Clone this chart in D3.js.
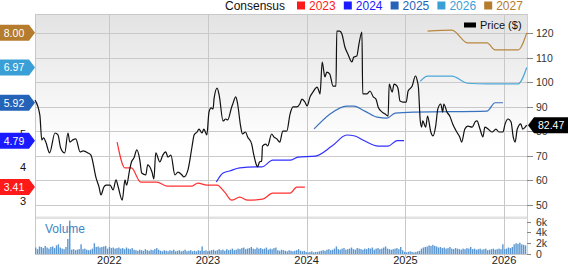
<!DOCTYPE html>
<html>
<head>
<meta charset="utf-8">
<script src="https://cdn.jsdelivr.net/npm/d3@7"></script>
<style>
  body { margin: 0; background: #fff; }
  svg { display: block; font-family: "Liberation Sans", Arial, sans-serif; }
</style>
</head>
<body>
<div id="chart"></div>
<script>
// price (daily close, $)
const price = [["2021-04-01",92.7],["2021-04-19",86.6],["2021-04-26",76.5],["2021-05-03",77.3],["2021-05-11",75.6],["2021-05-25",71.2],["2021-06-14",79.3],["2021-06-25",78.5],["2021-07-05",73.2],["2021-07-20",71.2],["2021-08-01",79.3],["2021-08-08",75.6],["2021-08-19",76.5],["2021-08-30",76.9],["2021-09-15",71.6],["2021-09-26",72.0],["2021-10-14",71.2],["2021-10-25",70.3],["2021-11-13",61.0],["2021-11-24",57.3],["2021-12-01",54.1],["2021-12-12",57.3],["2021-12-20",58.1],["2022-01-04",58.1],["2022-01-15",56.1],["2022-01-26",60.2],["2022-02-03",57.3],["2022-02-18",52.0],["2022-02-28",60.2],["2022-03-06",58.1],["2022-03-17",64.2],["2022-03-24",67.5],["2022-04-02",69.1],["2022-04-13",72.4],["2022-04-24",68.3],["2022-05-01",63.0],["2022-05-16",62.2],["2022-05-23",66.3],["2022-06-08",63.4],["2022-06-15",60.6],["2022-06-22",71.2],["2022-07-07",67.5],["2022-07-18",70.3],["2022-07-29",71.6],["2022-08-06",69.5],["2022-08-17",70.3],["2022-09-01",62.2],["2022-09-12",63.4],["2022-09-27",62.2],["2022-10-04",61.4],["2022-10-19",64.2],["2022-11-03",73.6],["2022-11-11",78.5],["2022-11-22",79.7],["2022-11-29",80.9],["2022-12-10",79.3],["2022-12-17",80.9],["2022-12-28",78.5],["2023-01-05",87.8],["2023-01-13",89.5],["2023-01-20",89.1],["2023-01-24",93.5],["2023-02-04",97.6],["2023-02-12",94.5],["2023-02-26",84.2],["2023-03-08",85.0],["2023-03-15",84.6],["2023-03-30",89.9],["2023-04-03",91.1],["2023-04-14",94.0],["2023-04-21",91.1],["2023-05-02",82.1],["2023-05-09",78.9],["2023-05-20",79.7],["2023-05-28",77.7],["2023-06-12",74.8],["2023-06-19",70.8],["2023-07-01",65.9],["2023-07-04",65.5],["2023-07-11",67.5],["2023-07-19",67.9],["2023-07-22",74.0],["2023-08-03",74.8],["2023-08-10",74.0],["2023-08-25",78.9],["2023-09-02",77.7],["2023-09-13",76.9],["2023-09-24",75.6],["2023-10-05",80.1],["2023-10-20",80.1],["2023-11-01",87.0],["2023-11-12",89.9],["2023-11-26",89.9],["2023-12-07",91.1],["2023-12-15",93.1],["2023-12-26",91.9],["2024-01-03",90.3],["2024-01-14",94.0],["2024-01-25",96.0],["2024-02-09",98.0],["2024-02-17",96.0],["2024-02-20",95.2],["2024-02-28",108.2],["2024-03-09",102.1],["2024-03-16",104.1],["2024-03-27",103.3],["2024-04-08",98.4],["2024-04-19",98.4],["2024-04-22",120.8],["2024-05-03",120.8],["2024-05-11",119.6],["2024-05-22",114.3],["2024-06-02",111.5],["2024-06-17",108.2],["2024-06-24",110.2],["2024-07-05",110.6],["2024-07-13",115.5],["2024-07-24",120.4],["2024-07-27",95.2],["2024-08-12",95.2],["2024-08-23",96.4],["2024-09-04",94.0],["2024-09-14",93.1],["2024-09-22",89.9],["2024-10-07",87.8],["2024-10-18",87.0],["2024-10-29",86.2],["2024-11-02",99.2],["2024-11-13",96.0],["2024-11-20",99.2],["2024-12-01",98.4],["2024-12-05",97.2],["2024-12-12",92.3],["2024-12-23",91.9],["2025-01-04",91.9],["2025-01-11",96.4],["2025-01-26",98.4],["2025-02-07",102.5],["2025-02-14",100.5],["2025-02-18",98.0],["2025-02-25",84.2],["2025-03-02",81.7],["2025-03-06",84.2],["2025-03-17",81.7],["2025-03-24",86.2],["2025-04-05",79.7],["2025-04-13",78.1],["2025-04-23",82.1],["2025-05-01",89.1],["2025-05-12",91.1],["2025-05-19",87.8],["2025-05-23",91.1],["2025-06-04",87.8],["2025-06-14",86.2],["2025-06-25",83.0],["2025-07-10",79.7],["2025-07-21",77.7],["2025-07-28",75.6],["2025-08-09",80.9],["2025-08-20",82.1],["2025-09-05",81.7],["2025-09-16",83.8],["2025-09-23",84.2],["2025-10-04",80.9],["2025-10-15",77.7],["2025-10-22",81.7],["2025-11-03",80.9],["2025-11-18",79.7],["2025-12-02",80.9],["2025-12-13",79.7],["2025-12-28",79.7],["2026-01-05",83.0],["2026-01-16",85.0],["2026-01-27",83.8],["2026-02-04",77.7],["2026-02-11",75.6],["2026-02-19",80.9],["2026-03-04",83.0],["2026-03-11",80.9],["2026-03-26",82.47]];

// consensus EPS estimates per fiscal year
const eps2023 = [["2022-01-30",4.75],["2022-02-28",3.98],["2022-03-24",3.98],["2022-04-27",3.56],["2022-06-26",3.56],["2022-08-02",3.44],["2022-11-03",3.44],["2022-11-25",3.53],["2022-12-28",3.47],["2023-02-04",3.47],["2023-03-04",3.26],["2023-03-30",3.02],["2023-04-29",3.11],["2023-05-28",3.02],["2023-07-22",3.05],["2023-08-29",3.23],["2023-11-01",3.23],["2023-11-26",3.41],["2023-12-26",3.41]];
const eps2024 = [["2023-02-01",3.56],["2023-02-26",3.83],["2023-03-22",3.89],["2023-04-29",3.98],["2023-07-01",4.01],["2023-07-19",4.01],["2023-08-29",4.21],["2023-11-01",4.21],["2023-11-30",4.30],["2024-02-02",4.33],["2024-04-04",4.63],["2024-05-29",4.96],["2024-06-28",4.93],["2024-08-04",4.78],["2024-09-22",4.63],["2024-10-29",4.63],["2024-12-01",4.79],["2024-12-27",4.79]];
const eps2025 = [["2024-01-29",5.14],["2024-03-27",5.58],["2024-05-29",5.82],["2024-06-24",5.82],["2024-08-04",5.67],["2024-09-18",5.49],["2024-10-25",5.46],["2024-11-24",5.61],["2025-02-07",5.64],["2025-10-30",5.67],["2025-11-29",5.92],["2025-12-28",5.92]];
const eps2026 = [["2025-02-25",6.56],["2025-03-24",6.71],["2025-06-22",6.71],["2025-08-20",6.50],["2025-10-30",6.48],["2026-02-22",6.48],["2026-03-26",6.97]];
const eps2027 = [["2025-03-24",8.05],["2025-06-22",8.08],["2025-08-20",7.70],["2025-10-30",7.70],["2025-11-29",7.49],["2026-02-22",7.49],["2026-03-26",8.00]];

const seriesNames = ["2023", "2024", "2025", "2026", "2027"];
const seriesColors = ["#ff1a1a", "#1a1aff", "#2463b8", "#3a9fd6", "#b47c2c"];
const seriesData = [eps2023, eps2024, eps2025, eps2026, eps2027];

// weekly volume (thousands), from first week of April 2021
const volumeStart = "2021-04-01";
const volume = [1.2,0.9,1.4,1.3,1.1,1.5,1.2,1.0,1.3,1.4, 1.1,1.6,1.8, 1.2,1.0,0.9,1.3,2.8, 6.2, 0.8,0.9,0.7,0.8,0.9, 1.8,
  0.9,1.0,0.8,0.7,0.8,1.0, 2.0, 1.3,1.4,1.2,1.3,1.4,1.5,
  1.0,1.3,1.1,1.2,1.0,1.1,1.2,1.0,1.1,0.9,1.2,1.0,0.9,1.1,0.8,
  0.7,0.6,0.8,0.7,0.6,0.9,0.7,0.6,0.8,0.7,0.9,1.1,
  0.8,0.6,0.5,0.7,0.6,0.5,0.7,0.6,0.8,0.5,0.6,0.7,0.5,0.6,0.8,0.5,0.6,0.7,0.5,0.6,0.5,0.7,0.6,1.4,
  0.6,0.7,0.5,0.6,0.7,0.8,0.6,0.7,0.9,0.7,0.8,0.6,0.9,0.7,0.8,1.0,0.7,0.8,
  1.0,0.9,1.1,1.2,0.9,1.0,1.1,1.3,1.0,0.9,1.2,1.0,1.1,0.9,1.0,1.2,0.8,1.0,0.9,1.1, 1.2,
  0.7,0.6,0.8,0.7,0.6,0.5,0.7,0.6,0.5,0.6,0.7,0.9,0.6,0.5,0.6,
  0.4,0.3,0.4,0.5,0.3,0.4,0.4,0.5,0.6,
  0.7,0.6,0.8,0.9,0.7,0.8,1.0,1.4,0.9,0.8,1.0,1.1,0.8,0.9,1.0,1.2,0.9,0.8,1.1,1.0,0.9,0.8,1.0,
  0.9,1.1,1.0,1.2,0.8,1.0,1.1,0.9,1.0,1.2,1.4,1.0,0.9,0.8,0.9,1.0,1.1,0.9,1.3,0.7,
  0.4,0.3,0.4,0.5,0.4,0.3,0.4,0.5,0.6,
  1.0,1.2,1.3,1.4,1.6,1.5,1.7,1.5,1.4,1.2,1.3,1.1,1.2,1.0,1.1,1.3,1.0,0.9,1.1,1.0,0.9,0.8,
  1.0,0.9,1.1,1.0,1.3,0.9,1.0,0.8,0.9,1.0,0.8,0.9,1.0,0.7,0.8,0.9,1.0,0.8,0.9,1.0,
  0.9,1.8, 0.9,1.0,1.2,1.1,1.3,1.8,2.0,1.9,2.1,1.8,1.7,1.6];

const priceTicks = [50, 60, 70, 80, 90, 100, 110, 120];
const epsTicks = [3, 4, 5];
const volumeTicks = [0, 2, 4, 6];
const yearTicks = ["2022", "2023", "2024", "2025", "2026"];
const lastPrice = 82.47;

const W = 568, H = 264;
const plotL = 35, plotR = 527, plotT = 14, priceB = 214, volT = 219, volB = 254;
const parse = d3.timeParse("%Y-%m-%d");

const svg = d3.select("#chart").append("svg")
    .attr("width", W)
    .attr("height", H);

const x = d3.scaleTime()
    .domain([parse("2021-04-01"), parse("2026-03-27")])
    .range([plotL, plotR]);
const yPrice = d3.scaleLinear().domain([46.33, 127.73]).range([priceB, plotT]);
const yEps = d3.scaleLinear().domain([2.61, 8.56]).range([priceB, plotT]);
const yVol = d3.scaleLinear().domain([0, 6.5]).range([volB, volT]);

// background gradient
const grad = svg.append("defs").append("linearGradient")
    .attr("id", "bg").attr("x1", 0).attr("y1", 0).attr("x2", 0).attr("y2", 1);
grad.append("stop").attr("offset", "0%").attr("stop-color", "#e3e3e3");
grad.append("stop").attr("offset", "65%").attr("stop-color", "#ffffff");

svg.append("rect")
    .attr("x", plotL).attr("y", plotT)
    .attr("width", plotR - plotL).attr("height", 216 - plotT)
    .attr("fill", "url(#bg)");

// separator band
svg.append("rect")
    .attr("x", plotL).attr("y", 216.5)
    .attr("width", plotR - plotL).attr("height", 2.5)
    .attr("fill", "#e2e2e2");

// horizontal grid
svg.append("g").selectAll("line")
    .data(priceTicks)
    .join("line")
    .attr("x1", plotL).attr("x2", plotR)
    .attr("y1", d => Math.round(yPrice(d)) + 0.5)
    .attr("y2", d => Math.round(yPrice(d)) + 0.5)
    .attr("stroke", "#cacaca");

// vertical grid (year starts)
svg.append("g").selectAll("line")
    .data(yearTicks)
    .join("line")
    .attr("x1", d => Math.round(x(parse(d + "-01-01"))) + 0.5)
    .attr("x2", d => Math.round(x(parse(d + "-01-01"))) + 0.5)
    .attr("y1", plotT).attr("y2", volB + 3)
    .attr("stroke", "#c8c8c8");

// borders
svg.append("line").attr("x1", plotL + 0.5).attr("x2", plotL + 0.5).attr("y1", plotT).attr("y2", volB)
    .attr("stroke", "#c8c8c8");
svg.append("line").attr("x1", plotR + 0.5).attr("x2", plotR + 0.5).attr("y1", plotT).attr("y2", volB)
    .attr("stroke", "#d0d0d0");
svg.append("line").attr("x1", plotL).attr("x2", plotR).attr("y1", plotT + 0.5).attr("y2", plotT + 0.5)
    .attr("stroke", "#c8c8c8");
svg.append("line").attr("x1", plotL).attr("x2", plotR).attr("y1", volB + 0.5).attr("y2", volB + 0.5)
    .attr("stroke", "#c8c8c8");

// volume bars
const v0 = parse(volumeStart);
svg.append("g").selectAll("rect")
    .data(volume)
    .join("rect")
    .attr("x", (d, i) => x(d3.timeWeek.offset(v0, i)))
    .attr("width", 1.4)
    .attr("y", d => yVol(d))
    .attr("height", d => yVol(0) - yVol(d))
    .attr("fill", "#5a97d2");

svg.append("text")
    .attr("x", 45).attr("y", 233)
    .attr("font-size", 12)
    .attr("fill", "#3a86c8")
    .text("Volume");

// consensus lines
const epsLine = d3.line()
    .x(d => x(parse(d[0])))
    .y(d => yEps(d[1]))
    .curve(d3.curveMonotoneX);

seriesData.forEach((s, i) => {
    svg.append("path")
        .datum(s)
        .attr("d", epsLine)
        .attr("fill", "none")
        .attr("stroke", seriesColors[i])
        .attr("stroke-width", 1.2)
        .attr("opacity", 0.9);
});

// price line
const priceLine = d3.line()
    .x(d => x(parse(d[0])))
    .y(d => yPrice(d[1]))
    .curve(d3.curveMonotoneX);

svg.append("path")
    .datum(price)
    .attr("d", priceLine)
    .attr("fill", "none")
    .attr("stroke", "#111")
    .attr("stroke-width", 1.2);

// right price axis
const rAxis = svg.append("g");
priceTicks.forEach(t => {
    const yy = Math.round(yPrice(t)) + 0.5;
    rAxis.append("line").attr("x1", plotR).attr("x2", plotR + 6).attr("y1", yy).attr("y2", yy)
        .attr("stroke", "#888");
    rAxis.append("text")
        .attr("x", plotR + 9).attr("y", yy + 3.5)
        .attr("font-size", 10.5).attr("fill", "#333")
        .text(t);
});

// volume axis
volumeTicks.forEach(t => {
    const yy = Math.round(yVol(t)) + 0.5;
    rAxis.append("line").attr("x1", plotR).attr("x2", plotR + 4).attr("y1", yy).attr("y2", yy)
        .attr("stroke", "#888");
    rAxis.append("text")
        .attr("x", plotR + 9).attr("y", yy + 3.5)
        .attr("font-size", 10.5).attr("fill", "#333")
        .text(t === 0 ? "0" : t + "k");
});

// year labels
svg.append("g").selectAll("text")
    .data(yearTicks)
    .join("text")
    .attr("x", d => x(parse(d + "-01-01")))
    .attr("y", 264)
    .attr("text-anchor", "middle")
    .attr("font-size", 11).attr("fill", "#222")
    .text(d => d);

// left EPS axis
svg.append("g").selectAll("text")
    .data(epsTicks)
    .join("text")
    .attr("x", 26).attr("y", d => yEps(d) + 4)
    .attr("text-anchor", "end")
    .attr("font-size", 11).attr("fill", "#111")
    .text(d => d);

// left value tags (last estimate of each year)
seriesData.forEach((s, i) => {
    const val = s[s.length - 1][1];
    const yy = yEps(val);
    const g = svg.append("g").attr("transform", `translate(0,${yy})`);
    g.append("path")
        .attr("d", "M0,-8 L29,-8 L35,0 L29,8 L0,8 Z")
        .attr("fill", seriesColors[i]);
    g.append("text")
        .attr("x", 14).attr("y", 4)
        .attr("text-anchor", "middle")
        .attr("font-size", 10.5).attr("fill", "#fff")
        .text(val.toFixed(2));
});

// last price tag
const py = yPrice(lastPrice);
const pt = svg.append("g").attr("transform", `translate(0,${py})`);
pt.append("path")
    .attr("d", `M${plotR + 1},0 L${plotR + 7},-8 L${W},-8 L${W},8 L${plotR + 7},8 Z`)
    .attr("fill", "#000");
pt.append("text")
    .attr("x", plotR + 11).attr("y", 4)
    .attr("font-size", 10.5).attr("fill", "#fff")
    .text(lastPrice.toFixed(2));

// top legend
svg.append("text")
    .attr("x", 225).attr("y", 10)
    .attr("font-size", 12).attr("fill", "#111")
    .text("Consensus");

const legend = svg.append("g").selectAll("g")
    .data(seriesNames)
    .join("g")
    .attr("transform", (d, i) => `translate(${297 + i * 46.8},0)`);
legend.append("rect")
    .attr("x", 0).attr("y", 1.5)
    .attr("width", 8).attr("height", 8)
    .attr("fill", (d, i) => seriesColors[i]);
legend.append("text")
    .attr("x", 12).attr("y", 10)
    .attr("font-size", 12)
    .attr("fill", (d, i) => seriesColors[i])
    .text(d => d);

// price legend
svg.append("rect")
    .attr("x", 464).attr("y", 22.5)
    .attr("width", 12).attr("height", 5)
    .attr("fill", "#000");
svg.append("text")
    .attr("x", 480).attr("y", 29)
    .attr("font-size", 11).attr("fill", "#111")
    .text("Price ($)");
</script>
</body>
</html>
